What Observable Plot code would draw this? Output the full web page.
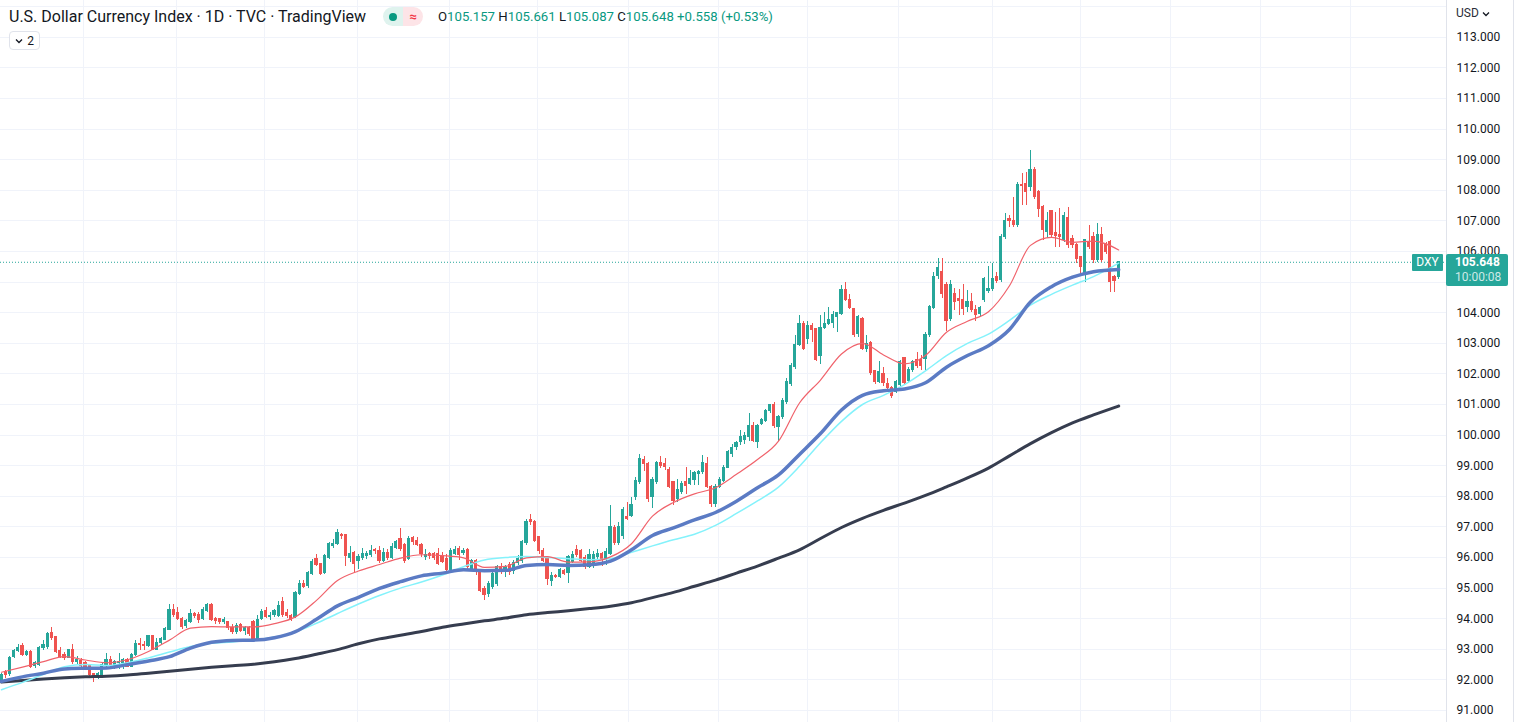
<!DOCTYPE html>
<html>
<head>
<meta charset="utf-8">
<script src="https://cdn.jsdelivr.net/npm/d3@7"></script>
<script src="https://cdn.jsdelivr.net/npm/@observablehq/plot@0.6"></script>
<style>
  html, body { margin: 0; padding: 0; background: #fff; }
  #wrap { position: relative; width: 1515px; height: 722px; overflow: hidden; font-family: Roboto, "Noto Sans", sans-serif; }
  #chart svg { display: block; }
  .abs { position: absolute; white-space: nowrap; }
</style>
</head>
<body>
<div id="wrap">
  <div id="chart"></div>
</div>
<script>
// ---------------- DATA ----------------
const titleText = "U.S. Dollar Currency Index · 1D · TVC · TradingView";
const changeText = "+0.558 (+0.53%)";
const symbolText = "DXY";
const currencyText = "USD";
const countdownText = "10:00:08";
const studiesCount = "2";

const opens = [
91.95,92.25,92.2,92.75,92.95,93.1,92.8,92.9,92.45,92.5,
93.05,93.08,93.52,93.4,92.93,92.8,92.72,92.97,92.6,92.63,
92.55,92.45,92.18,92.08,92.12,92.45,92.65,92.4,92.55,92.55,
92.65,92.42,92.8,93.18,93.15,93.1,93.42,92.98,93.2,93.32,
93.62,94.28,94.2,94.0,93.75,93.9,94.15,94.12,94.0,94.25,
94.45,94.0,93.98,93.9,93.9,93.7,93.55,93.78,93.6,93.7,
93.9,93.35,94.0,94.25,94.05,94.12,94.1,94.55,94.2,94.1,
94.05,94.8,95.15,95.07,95.45,95.95,95.78,95.5,96.0,96.38,
96.45,96.75,96.72,96.0,96.15,95.88,95.98,96.06,96.08,96.25,
96.2,95.9,96.15,95.97,96.3,96.6,96.4,95.95,96.63,96.55,
96.4,96.03,96.1,96.12,96.1,96.05,95.95,95.6,96.12,96.28,
96.15,96.23,95.63,95.88,95.57,94.98,94.8,95.05,95.15,95.7,
95.52,95.77,95.55,95.81,95.88,96.47,97.21,97.15,96.66,96.22,
95.95,95.23,95.41,95.36,95.57,95.49,95.85,96.23,96.2,96.0,
95.7,95.74,96.01,96.1,95.96,96.12,96.97,96.47,96.7,97.33,
97.37,97.97,98.46,99.19,99.06,97.97,98.46,99.08,99.06,98.86,
98.46,97.92,98.14,98.46,98.41,98.54,98.72,98.79,99.04,98.3,
97.75,98.3,98.5,98.93,99.39,99.6,99.77,99.85,99.95,100.3,
99.77,100.35,100.45,100.78,100.97,100.27,100.59,101.08,101.68,102.22,
102.96,103.64,103.15,103.58,103.47,102.6,103.5,103.64,103.66,103.85,
103.96,104.75,104.42,104.12,103.29,103.8,102.82,103.0,102.09,101.73,
102.0,101.68,101.53,101.4,101.64,102.51,101.78,102.14,102.47,102.45,
102.49,103.28,104.15,105.2,105.32,104.89,103.8,104.62,104.45,104.4,
104.18,104.36,104.1,103.95,104.4,104.72,104.76,105.16,105.08,106.47,
107.05,106.99,106.87,108.18,108.2,108.1,108.68,107.96,107.45,106.64,
107.31,106.6,106.55,106.39,107.09,106.4,106.2,105.81,105.27,106.3,
106.47,105.71,106.54,106.25,106.3,105.16,105.157];

const highs = [
92.2,92.3,92.75,93.0,93.15,93.2,92.95,92.95,92.6,93.1,
93.3,93.55,93.7,93.42,93.05,92.9,93.0,93.15,92.75,92.7,
92.6,92.5,92.2,92.25,92.55,92.85,92.75,92.65,92.85,92.7,
92.7,92.85,93.3,93.35,93.25,93.45,93.45,93.35,93.4,93.72,
94.45,94.45,94.35,94.05,93.98,94.3,94.2,94.2,94.35,94.5,
94.5,94.05,94.0,94.05,93.92,93.8,93.85,93.85,93.75,93.75,
93.95,94.1,94.3,94.35,94.2,94.3,94.55,94.7,94.3,94.15,
94.9,95.25,95.25,95.55,95.95,96.1,95.8,96.1,96.5,96.6,
96.9,96.8,96.75,96.35,96.2,96.1,96.3,96.2,96.4,96.3,
96.35,96.3,96.25,96.45,96.55,96.95,96.45,96.7,96.7,96.65,
96.45,96.25,96.15,96.15,96.3,96.15,96.1,96.3,96.35,96.35,
96.3,96.3,95.95,95.95,95.6,95.05,95.2,95.55,95.75,95.8,
95.75,95.85,95.9,96.05,96.55,97.25,97.4,97.2,96.7,96.3,
96.0,95.5,95.45,95.65,95.6,96.05,96.2,96.4,96.25,96.05,
96.25,96.2,96.25,96.15,96.3,97.7,97.05,97.15,97.65,97.8,
97.95,98.6,99.35,99.3,99.1,98.6,99.15,99.3,99.25,98.95,
98.5,98.55,98.5,98.93,98.84,98.8,98.85,99.33,99.28,98.35,
98.4,98.6,99.0,99.5,99.7,99.8,100.15,100.1,100.72,100.4,
100.35,100.55,100.85,101.0,101.05,100.65,101.2,101.84,102.35,103.25,
103.91,103.7,103.7,103.65,103.5,103.91,104.0,104.16,104.05,104.0,
104.89,104.98,104.6,104.15,103.9,103.85,103.26,103.05,102.1,102.4,
102.22,101.84,101.6,101.8,102.45,102.55,102.2,102.45,102.71,102.6,
103.36,104.25,105.3,105.76,105.76,105.0,105.05,104.8,104.75,104.91,
104.72,104.62,104.24,104.2,105.15,105.5,105.6,105.3,106.55,107.23,
107.18,107.77,108.25,108.54,108.59,109.3,108.75,108.0,107.5,107.28,
107.35,107.28,107.39,107.28,107.45,106.52,106.25,105.85,106.4,106.85,
106.63,106.9,106.79,106.3,106.35,105.2,105.661];

const lows = [
91.9,92.05,92.1,92.7,92.9,92.75,92.75,92.38,92.38,92.45,
92.95,93.0,93.3,92.85,92.7,92.65,92.7,92.5,92.5,92.3,
92.3,92.1,91.9,92.0,92.05,92.4,92.4,92.35,92.35,92.35,
92.4,92.4,92.75,92.95,92.95,93.05,92.95,92.95,93.15,93.28,
93.6,94.05,93.95,93.65,93.68,93.85,94.0,93.85,93.95,94.2,
93.92,93.82,93.8,93.82,93.6,93.5,93.5,93.55,93.45,93.42,
93.25,93.3,93.95,94.0,93.95,94.05,94.05,94.05,94.0,93.9,
94.0,94.75,95.0,95.0,95.4,95.7,95.4,95.45,95.95,96.3,
96.4,96.6,95.7,95.85,95.5,95.6,95.9,95.95,96.0,96.1,
95.8,95.85,95.9,95.95,96.25,96.2,95.8,95.9,96.4,96.35,
96.0,95.9,95.95,95.9,95.75,95.8,95.55,95.55,96.05,95.9,
96.05,95.55,95.55,95.4,94.85,94.6,94.7,94.95,95.05,95.45,
95.35,95.4,95.45,95.75,95.8,96.4,97.05,96.5,96.1,95.85,
95.1,95.05,95.3,95.3,95.4,95.15,95.8,96.0,95.85,95.6,
95.65,95.65,95.9,95.7,95.75,96.05,96.4,96.4,96.6,97.2,
97.3,97.85,98.4,98.8,97.8,97.6,98.4,98.9,98.85,98.25,
97.7,97.8,98.05,98.06,98.35,98.35,98.35,98.7,98.25,97.62,
97.62,98.25,98.45,98.9,99.28,99.5,99.65,99.7,99.8,99.75,
99.55,100.3,100.4,100.7,100.2,99.8,100.5,101.0,101.6,102.15,
102.9,102.75,102.95,103.04,102.4,102.3,103.45,103.58,103.5,103.36,
103.9,104.35,104.1,103.2,103.2,102.75,102.7,101.95,101.65,101.68,
101.6,101.46,101.2,101.35,101.6,101.65,101.7,102.05,102.17,102.1,
102.11,103.2,104.1,105.1,104.45,103.39,103.7,104.07,103.9,103.9,
104.0,104.0,103.7,103.85,104.34,104.62,104.7,104.95,105.0,106.4,
106.79,106.8,106.8,107.5,107.5,107.95,107.7,107.1,106.36,106.41,
106.47,106.14,106.14,106.3,106.1,106.09,105.6,105.22,105.0,106.05,
105.6,105.65,105.65,105.9,104.67,104.67,105.087];

const closes = [
92.15,92.15,92.7,92.95,93.05,92.8,92.92,92.42,92.55,93.05,
93.13,93.5,93.38,92.92,92.75,92.72,92.97,92.58,92.65,92.45,
92.37,92.15,92.1,92.18,92.48,92.65,92.45,92.6,92.6,92.65,
92.42,92.8,93.18,93.13,93.1,93.42,92.98,93.2,93.33,93.65,
94.3,94.12,93.98,93.72,93.92,94.15,94.1,93.95,94.3,94.45,
93.95,93.92,93.9,93.95,93.68,93.55,93.75,93.6,93.68,93.5,
93.3,93.95,94.22,94.05,94.1,94.25,94.43,94.12,94.1,93.95,
94.85,95.15,95.05,95.5,95.85,95.75,95.45,96.05,96.45,96.45,
96.8,96.7,96.05,96.1,95.8,96.02,96.12,96.1,96.22,96.2,
95.88,96.15,95.97,96.33,96.5,96.28,95.9,96.62,96.52,96.4,
96.1,96.08,96.05,96.0,95.8,95.85,95.6,96.2,96.23,96.07,
96.2,95.68,95.9,95.52,94.92,94.76,95.14,95.47,95.68,95.55,
95.7,95.52,95.81,95.96,96.5,97.15,97.15,96.55,96.2,95.9,
95.3,95.41,95.36,95.58,95.47,96.01,96.07,96.07,95.9,95.68,
96.07,96.07,96.1,95.95,96.17,97.0,96.47,97.0,97.55,97.26,
97.7,98.49,99.22,99.04,97.92,98.52,99.08,99.0,98.95,98.3,
97.86,98.19,98.41,98.35,98.57,98.76,98.79,99.08,98.32,97.75,
98.32,98.52,98.93,99.44,99.57,99.74,99.93,99.98,100.3,99.82,
100.3,100.48,100.78,100.97,100.29,100.59,101.1,101.73,102.27,102.96,
103.64,102.82,103.58,103.42,102.46,103.5,103.64,103.75,103.91,103.98,
104.73,104.42,104.16,103.26,103.85,102.82,102.98,102.02,101.73,102.05,
101.7,101.53,101.27,101.75,102.38,101.71,102.14,102.38,102.27,102.25,
103.28,104.18,105.18,105.45,104.62,103.74,104.91,104.34,104.37,104.13,
104.36,104.1,103.91,104.15,105.1,104.77,105.1,105.05,106.47,107.01,
106.99,106.85,108.18,108.14,107.96,108.65,107.78,107.39,106.69,107.01,
106.54,106.5,106.47,107.17,106.2,106.2,105.76,105.49,106.36,106.14,
105.71,106.54,105.71,105.98,105.0,105.05,105.648];

// Moving-average lines, every 5 bars
const maBars = [0,5,10,15,20,25,30,35,40,45,50,55,60,65,70,75,80,85,90,95,100,105,110,115,120,125,130,135,140,145,150,155,160,165,170,175,180,185,190,195,200,205,210,215,220,225,230,235,240,245,250,255,260,266];
const maRed = [92.25,92.42,92.6,92.76,92.65,92.56,92.66,92.93,93.3,93.69,93.74,93.73,93.73,93.84,94.06,94.6,95.25,95.56,95.77,95.98,96.09,96.06,95.99,95.68,95.71,95.99,96.03,95.85,95.86,96.02,96.45,97.35,97.8,98.08,98.28,98.72,99.2,99.8,101.05,101.8,102.65,103.0,102.62,102.33,102.6,103.36,103.72,104.03,104.88,106.2,106.46,106.3,106.34,106.05];
const maBlue = [91.95,92.1,92.22,92.36,92.38,92.39,92.5,92.62,92.76,93.04,93.23,93.29,93.3,93.38,93.58,93.98,94.42,94.7,94.99,95.21,95.4,95.49,95.6,95.57,95.58,95.74,95.77,95.74,95.76,95.88,96.25,96.72,96.97,97.23,97.47,97.84,98.28,98.7,99.37,100.05,100.82,101.3,101.45,101.51,101.71,102.22,102.6,102.92,103.45,104.35,104.85,105.16,105.34,105.41];
const maCyan = [91.68,91.92,92.18,92.43,92.5,92.47,92.56,92.72,92.91,93.09,93.2,93.24,93.3,93.4,93.57,93.85,94.17,94.48,94.76,95.0,95.2,95.43,95.7,95.92,96.0,96.03,96.0,95.96,95.93,95.96,96.17,96.38,96.58,96.76,97.05,97.44,97.85,98.3,98.98,99.75,100.45,101.0,101.3,101.65,102.1,102.6,103.0,103.3,103.75,104.25,104.6,104.9,105.18,105.62];
const maDark = [91.93,91.98,92.03,92.07,92.1,92.12,92.16,92.22,92.28,92.35,92.41,92.46,92.51,92.59,92.7,92.84,92.99,93.18,93.34,93.46,93.58,93.72,93.83,93.93,94.02,94.13,94.2,94.26,94.33,94.41,94.52,94.69,94.86,95.06,95.26,95.49,95.72,95.98,96.25,96.62,96.98,97.28,97.54,97.78,98.03,98.31,98.6,98.92,99.32,99.72,100.08,100.4,100.66,100.95];

// Axis ticks and grid
const priceTicks = [91,92,93,94,95,96,97,98,99,100,101,102,103,104,105,106,107,108,109,110,111,112,113];
const priceGrid = [91,92,93,94,95,96,97,98,99,100,101,102,103,104,105,106,107,108,109,110,111,112,113,114];
const monthGrid = [19.5,41.7,62.6,84.8,106.7,127.6,149.3,170.7,191.9,213.6,236.0,256.9,278.3,299.8,321.2];

// ---------------- CHART ----------------
const UP = "#26a69a", DOWN = "#ef5350";
const n = closes.length;
const bars = d3.range(n).map(i => ({i, o: opens[i], h: highs[i], l: lows[i], c: closes[i]}));
const upBars = bars.filter(d => d.c >= d.o);
const downBars = bars.filter(d => d.c < d.o);
const line = vals => maBars.map((b, k) => ({i: b, v: vals[k]}));
const last = bars[n - 1];
const xMin = -0.238, xMax = 344.05;

const chart = Plot.plot({
  width: 1515,
  height: 722,
  marginLeft: 0, marginRight: 69, marginTop: 0, marginBottom: 0,
  x: {domain: [xMin, xMax], axis: null},
  y: {domain: [90.608, 114.203], axis: null},
  style: {background: "#ffffff", fontFamily: "Roboto, 'Noto Sans', sans-serif", overflow: "visible"},
  marks: [
    Plot.ruleY(priceGrid, {stroke: "#f0f3fa", strokeWidth: 1, shapeRendering: "crispEdges"}),
    Plot.ruleX(monthGrid, {stroke: "#f0f3fa", strokeWidth: 1, shapeRendering: "crispEdges"}),
    Plot.ruleY([last.c], {stroke: UP, strokeWidth: 1, strokeDasharray: "1,2"}),
    // wicks
    Plot.ruleX(upBars, {x: "i", y1: "l", y2: "h", stroke: UP, strokeWidth: 1, shapeRendering: "crispEdges"}),
    Plot.ruleX(downBars, {x: "i", y1: "l", y2: "h", stroke: DOWN, strokeWidth: 1, shapeRendering: "crispEdges"}),
    // bodies
    Plot.rect(upBars, {x1: d => d.i - 0.36, x2: d => d.i + 0.36, y1: "o", y2: "c", fill: UP, insetTop: -0.5, insetBottom: -0.5, shapeRendering: "crispEdges"}),
    Plot.rect(downBars, {x1: d => d.i - 0.36, x2: d => d.i + 0.36, y1: "o", y2: "c", fill: DOWN, insetTop: -0.5, insetBottom: -0.5, shapeRendering: "crispEdges"}),
    // moving averages
    Plot.line(line(maDark), {x: "i", y: "v", stroke: "#363d4f", strokeWidth: 3, curve: "monotone-x"}),
    Plot.line(line(maCyan), {x: "i", y: "v", stroke: "#84f2fb", strokeWidth: 1.5, curve: "monotone-x"}),
    Plot.line(line(maBlue), {x: "i", y: "v", stroke: "#5b7bc4", strokeWidth: 3.5, curve: "monotone-x"}),
    Plot.line(line(maRed), {x: "i", y: "v", stroke: "#f0626b", strokeWidth: 1.2, curve: "monotone-x"}),
    // right price scale
    Plot.ruleX([xMax], {stroke: "#e0e3eb", strokeWidth: 1, shapeRendering: "crispEdges"}),
    Plot.axisY(priceTicks, {anchor: "right", tickSize: 0, tickPadding: 10, tickFormat: d => d.toFixed(3), fontSize: 12, fill: "#131722", textAnchor: "start"})
  ]
});
document.getElementById("chart").appendChild(chart);

// ---------------- OVERLAYS (legend, labels) ----------------
const wrap = document.getElementById("wrap");
function add(html, style) {
  const el = document.createElement("div");
  el.className = "abs";
  el.setAttribute("style", style);
  el.innerHTML = html;
  wrap.appendChild(el);
  return el;
}
const chevron = (c) => `<svg width="8" height="6" viewBox="0 0 8 6" style="vertical-align:middle"><polyline points="1,1.5 4,4.5 7,1.5" fill="none" stroke="${c}" stroke-width="1.3"/></svg>`;

add(titleText, "left:9px;top:7px;font-size:16px;color:#131722;line-height:20px;");
add(`<div style="width:20px;height:19px;background:#dff3ee;display:flex;align-items:center;justify-content:center"><span style="width:8px;height:8px;border-radius:50%;background:#089981;display:block"></span></div><div style="width:20px;height:19px;background:#fde4e7;color:#f23645;font-size:13px;display:flex;align-items:center;justify-content:center;font-weight:bold">≈</div>`,
  "left:383px;top:7px;height:19px;width:40px;border-radius:10px;overflow:hidden;display:flex;");
const f3 = v => v.toFixed(3);
add(`<span style="color:#131722">O</span>${f3(last.o)} <span style="color:#131722">H</span>${f3(last.h)} <span style="color:#131722">L</span>${f3(last.l)} <span style="color:#131722">C</span>${f3(last.c)} ${changeText}`,
  "left:438px;top:9px;font-size:13.2px;color:#089981;line-height:16px;");
add(`${chevron("#131722")}<span style="margin-left:4px">${studiesCount}</span>`,
  "left:9px;top:31px;width:29px;height:17px;border:1px solid #e0e3eb;border-radius:4px;font-size:12px;color:#131722;display:flex;align-items:center;justify-content:center;background:#fff;");
add(`${currencyText} ${chevron("#131722")}`, "left:1456px;top:5px;font-size:12px;color:#2a2e39;line-height:16px;");
add(symbolText, "left:1412px;top:254px;width:31px;height:17px;background:#26a69a;color:#fff;font-size:12px;line-height:17px;text-align:center;border-radius:1px;");
add(`<div style="font-weight:bold;line-height:15px">${f3(last.c)}</div><div style="color:rgba(255,255,255,0.78);line-height:14px">${countdownText}</div>`,
  "left:1446px;top:254px;width:62px;height:32px;background:#26a69a;color:#fff;font-size:12px;padding-left:9px;box-sizing:border-box;padding-top:1px;border-radius:2px;");
add("", "left:1513px;top:0px;width:1px;height:722px;background:#e0e3eb;");
</script>
</body>
</html>
